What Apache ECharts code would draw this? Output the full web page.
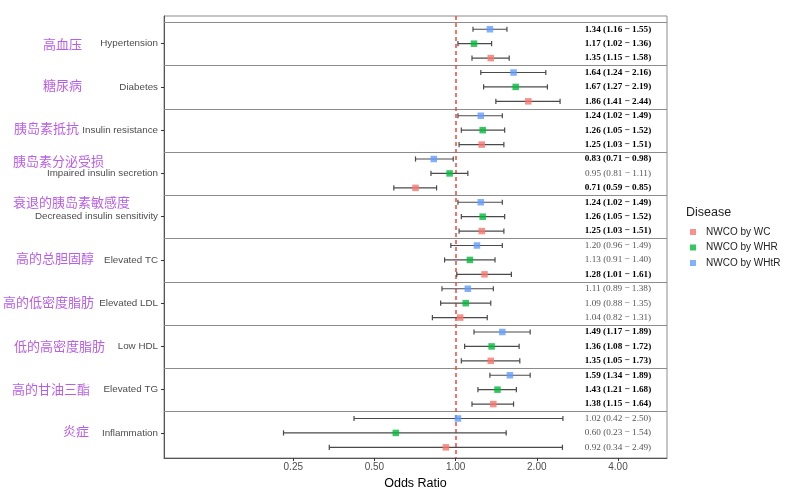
<!DOCTYPE html>
<html><head><meta charset="utf-8">
<script src="https://cdn.jsdelivr.net/npm/echarts@6/dist/echarts.min.js"></script>
<style>html,body{margin:0;padding:0;background:#fff}#c{width:799px;height:495px}</style>
</head><body><div id="c"></div>
<script>
// ---- data ----
const categories = ['Hypertension','Diabetes','Insulin resistance','Impaired insulin secretion','Decreased insulin sensitivity','Elevated TC','Elevated LDL','Low HDL','Elevated TG','Inflammation'];
const cnLabels = ['高血压','糖尿病','胰岛素抵抗','胰岛素分泌受损','衰退的胰岛素敏感度','高的总胆固醇','高的低密度脂肪','低的高密度脂肪','高的甘油三酯','炎症'];
const seriesNames = ['NWCO by WC','NWCO by WHR','NWCO by WHtR'];
const wcOR   = [1.35,1.86,1.25,0.71,1.25,1.28,1.04,1.35,1.38,0.92];
const wcLo   = [1.15,1.41,1.03,0.59,1.03,1.01,0.82,1.05,1.15,0.34];
const wcHi   = [1.58,2.44,1.51,0.85,1.51,1.61,1.31,1.73,1.64,2.49];
const whrOR  = [1.17,1.67,1.26,0.95,1.26,1.13,1.09,1.36,1.43,0.60];
const whrLo  = [1.02,1.27,1.05,0.81,1.05,0.91,0.88,1.08,1.21,0.23];
const whrHi  = [1.36,2.19,1.52,1.11,1.52,1.40,1.35,1.72,1.68,1.54];
const whtrOR = [1.34,1.64,1.24,0.83,1.24,1.20,1.11,1.49,1.59,1.02];
const whtrLo = [1.16,1.24,1.02,0.71,1.02,0.96,0.89,1.17,1.34,0.42];
const whtrHi = [1.55,2.16,1.49,0.98,1.49,1.49,1.38,1.89,1.89,2.50];
const xTicks = [0.25,0.5,1,2,4];
const refValue = 1;
const textX = 4;

// ---- build ----
const specs = [
  {name: seriesNames[0], or: wcOR,   lo: wcLo,   hi: wcHi,   color: '#F8766D', off:  1/3},
  {name: seriesNames[1], or: whrOR,  lo: whrLo,  hi: whrHi,  color: '#00BA38', off:  0},
  {name: seriesNames[2], or: whtrOR, lo: whtrLo, hi: whtrHi, color: '#619CFF', off: -1/3}
];
const groupPos = categories.map((_, i) => i + 1);
const fmt = v => v.toFixed(2);

const series = [];
const bounds = categories.map((_, i) => i + 0.5);
series.push({
  type: 'custom', name: 'sep', silent: true, z: 1,
  data: bounds.map(b => [refValue, b]),
  encode: {x: 0, y: 1},
  renderItem(params, api) {
    const cs = params.coordSys;
    const y = Math.round(api.coord([api.value(0), api.value(1)])[1]) + 0.5;
    return {type: 'line', shape: {x1: cs.x, y1: y, x2: cs.x + cs.width, y2: y},
      style: {stroke: '#8c8c8c', lineWidth: 1}};
  }
});
specs.forEach(s => {
  series.push({
    type: 'custom', name: 'err ' + s.name, silent: true, z: 3,
    data: groupPos.map((g, i) => [s.lo[i], s.hi[i], g + s.off]),
    encode: {x: [0, 1], y: 2},
    renderItem(params, api) {
      const a = api.coord([api.value(0), api.value(2)]);
      const b = api.coord([api.value(1), api.value(2)]);
      const h = 2.6, st = {stroke: '#4a4a4a', lineWidth: 1.2};
      return {type: 'group', children: [
        {type: 'line', shape: {x1: a[0], y1: a[1], x2: b[0], y2: b[1]}, style: st},
        {type: 'line', shape: {x1: a[0], y1: a[1] - h, x2: a[0], y2: a[1] + h}, style: st},
        {type: 'line', shape: {x1: b[0], y1: b[1] - h, x2: b[0], y2: b[1] + h}, style: st}
      ]};
    }
  });
});
specs.forEach((s, k) => {
  series.push({
    type: 'scatter', name: s.name, symbol: 'rect', symbolSize: 6.5, z: 5,
    itemStyle: {color: s.color},
    data: groupPos.map((g, i) => [s.or[i], g + s.off]),
    markLine: k === 0 ? {
      silent: true, symbol: ['none', 'none'], label: {show: false}, z: 2,
      lineStyle: {color: '#F0453F', type: [4, 3], width: 1.5, opacity: 1},
      emphasis: {disabled: true},
      data: [{xAxis: refValue}]
    } : undefined
  });
  const texts = groupPos.map((g, i) => ({
    t: fmt(s.or[i]) + ' (' + fmt(s.lo[i]) + ' \u2212 ' + fmt(s.hi[i]) + ')',
    bold: s.lo[i] > refValue || s.hi[i] < refValue
  }));
  series.push({
    type: 'custom', name: 'txt ' + s.name, silent: true, z: 4,
    data: groupPos.map(g => [textX, g + s.off]),
    encode: {x: 0, y: 1},
    renderItem(params, api) {
      const p = api.coord([api.value(0), api.value(1)]);
      const d = texts[params.dataIndex];
      return {type: 'text', x: p[0], y: p[1], style: {
        text: d.t, align: 'center', verticalAlign: 'middle',
        font: (d.bold ? 'bold ' : '') + '9.2px "Liberation Serif"',
        fill: d.bold ? '#000' : '#555'
      }};
    }
  });
});

const cnPos = [[43,45],[43,86],[14,129],[13,162],[13,203.5],[16,259],[3,303],[14,347.5],[12,390],[63,432.5]];
const graphics = cnLabels.map((t, i) => ({
  type: 'text', left: cnPos[i][0], top: cnPos[i][1] - 7.5, silent: true,
  style: {text: t, font: '13px "Noto Sans CJK SC"', fill: '#B95EEA'}
}));
graphics.push({type: 'text', left: 686, top: 206, style: {text: 'Disease', font: '12.5px "Liberation Sans"', fill: '#222'}});

const chart = echarts.init(document.getElementById('c'), null, {renderer: 'canvas'});
chart.setOption({
  animation: false,
  backgroundColor: '#fff',
  grid: {left: 164, right: 132, top: 16, bottom: 37, show: true, borderColor: '#8c8c8c', borderWidth: 1, containLabel: false},
  legend: {
    data: seriesNames, orient: 'vertical', left: 685, top: 222,
    icon: 'rect', itemWidth: 6, itemHeight: 6, itemGap: 5.5,
    textStyle: {fontSize: 10, fontFamily: 'Liberation Sans', color: '#222', padding: [0, 0, 0, 5]},
    selectedMode: false
  },
  xAxis: {
    type: 'log', logBase: 2, min: 0.0829, max: 6.08,
    name: 'Odds Ratio', nameLocation: 'middle', nameGap: 18,
    nameTextStyle: {fontSize: 12.5, fontFamily: 'Liberation Sans', color: '#000'},
    axisLine: {show: true, lineStyle: {color: '#555'}},
    axisTick: {show: true, customValues: xTicks, length: 3, lineStyle: {color: '#333'}},
    axisLabel: {customValues: xTicks, formatter: v => Number(v).toFixed(2), fontSize: 10, fontFamily: 'Liberation Sans', color: '#4d4d4d', margin: 4},
    splitLine: {show: false}, minorSplitLine: {show: false}
  },
  yAxis: {
    type: 'value', inverse: true, min: 0.36, max: 10.58,
    axisLine: {show: true, lineStyle: {color: '#555'}},
    axisTick: {show: true, customValues: groupPos, length: 3, lineStyle: {color: '#333'}},
    axisLabel: {customValues: groupPos, formatter: v => categories[Math.round(v) - 1] || '', fontSize: 9.8, fontFamily: 'Liberation Sans', color: '#4d4d4d', margin: 6},
    splitLine: {show: false}
  },
  graphic: graphics,
  series: series
});
</script></body></html>
